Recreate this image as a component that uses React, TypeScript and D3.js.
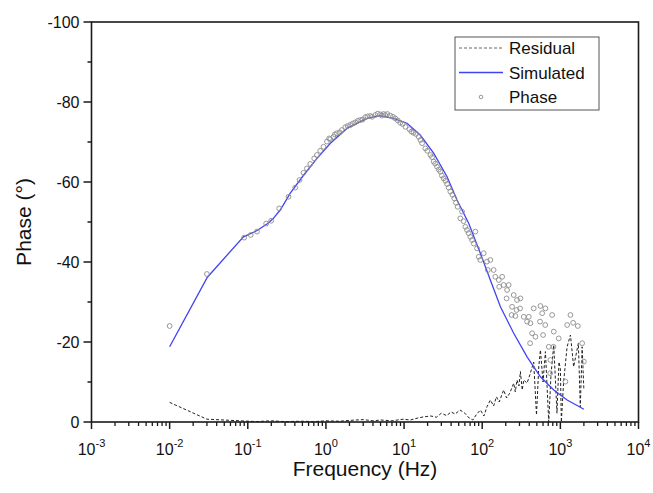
import React from 'react';
import * as d3 from 'd3';

// ---- data ----
const phaseFreq = [0.01, 0.03, 0.09, 0.109, 0.131, 0.172, 0.199, 0.252, 0.332, 0.405, 0.459, 0.516, 0.571, 0.63, 0.708, 0.767, 0.845, 0.931, 1.03, 1.1, 1.135, 1.25, 1.3, 1.38, 1.5, 1.6, 1.77, 1.9, 2.05, 2.2, 2.37, 2.55, 2.75, 2.95, 3.18, 3.4, 3.69, 3.9, 4.28, 4.6, 4.96, 5.2, 5.47, 5.74, 6.1, 6.65, 7.2, 7.71, 8.3, 8.93, 9.6, 10.4, 11.7, 12.4, 13.2, 14.2, 15.4, 16.2, 17.0, 18.7, 19.8, 21.7, 22.8, 23.9, 25, 26.4, 27.8, 29.1, 30.5, 32.1, 33.8, 35.5, 37.2, 39.1, 41.5, 44.0, 46.2, 48.5, 52.5, 55.2, 57.8, 60.8, 63.9, 67, 70.5, 74.1, 78, 81.7, 85.9, 90.2, 94.6, 104.5, 115, 118, 127, 140, 147, 163, 165, 180, 188, 205, 208, 218, 238, 241, 253, 266, 275, 279, 305, 308, 340, 375, 394, 410, 414, 435, 456, 480, 550, 556, 585, 601, 640, 644, 710, 740, 746, 785, 815, 823, 953, 1161, 1222, 1346, 1458, 1671, 1901, 2000];
const phaseVal = [-24.0, -37.0, -46.1, -46.75, -47.6, -49.6, -50.3, -53.4, -56.3, -58.6, -60.5, -62.3, -63.4, -64.5, -65.9, -66.75, -67.8, -68.8, -70.1, -70.9, -70.7, -71.3, -71.9, -72.2, -72.4, -73.0, -73.7, -74.0, -74.25, -74.6, -74.9, -75.3, -75.5, -75.6, -76.2, -76.4, -76.5, -76.3, -76.75, -77.1, -76.9, -76.6, -77.0, -76.75, -77.0, -76.6, -76.3, -75.9, -75.4, -74.8, -74.5, -73.8, -73.2, -72.6, -72.3, -72.0, -71.3, -70.5, -69.7, -68.4, -67.8, -66.75, -66.2, -65.1, -64.6, -63.8, -63.1, -62.6, -61.6, -60.9, -60.3, -59.5, -58.6, -57.6, -56.8, -55.9, -54.8, -53.8, -50.9, -52.6, -50.2, -48.8, -48.0, -47.2, -46.3, -45.5, -44.6, -47.6, -43.4, -41.3, -40.5, -42.2, -40.1, -38.0, -40.5, -38.0, -36.3, -35.5, -33.8, -36.3, -34.25, -30.9, -33.0, -34.25, -26.75, -28.8, -31.75, -26.5, -28.0, -30.5, -28.4, -30.9, -26.3, -25.1, -26.3, -19.7, -24.7, -22.2, -28.4, -21.3, -25.1, -29.0, -27.2, -21.75, -24.25, -28.4, -18.8, -12.2, -15.5, -26.75, -18.8, -22.6, -20.9, -10.1, -24.25, -26.75, -24.8, -24.0, -19.7, -15.1];

const simFreq = [0.01, 0.0304, 0.088, 0.13, 0.18, 0.21, 0.26, 0.35, 0.52, 0.77, 1.14, 1.86, 3.35, 4.8, 7.35, 10.9, 16.1, 23.9, 35.5, 47.6, 67.1, 94.6, 127, 171, 253, 375, 556, 822, 1222, 2000];
const simVal = [-18.8, -36.2, -46.3, -47.8, -49.6, -50.8, -53.0, -57.2, -61.75, -65.9, -69.7, -73.4, -75.9, -76.6, -75.9, -74.7, -71.75, -67.2, -61.3, -55.5, -49.7, -42.2, -35.5, -28.8, -22.2, -16.3, -11.3, -8.0, -5.5, -3.2];

const resFreq = [0.01, 0.03, 0.09, 0.13, 0.2, 0.3, 0.5, 0.7, 1.0, 1.5, 2.0, 3.0, 4.0, 5.0, 7.0, 9.7, 12, 15, 18, 22, 26, 30, 35, 40, 45, 52, 60, 68, 76, 85, 95, 105, 115, 127, 140, 152, 165, 188, 205, 225, 253, 265, 279, 295, 308, 325, 340, 375, 410, 456, 495, 530, 556, 600, 644, 710, 760, 823, 905, 960, 1000, 1030, 1100, 1220, 1346, 1480, 1700, 1800, 1900, 2000];
const resVal = [-4.9, -0.7, -0.25, -0.1, -0.3, -0.1, -0.2, -0.1, -0.3, -0.2, -0.4, -0.6, -0.3, -0.5, -0.3, -0.7, -0.5, -1.0, -1.3, -1.5, -1.2, -2.2, -1.6, -2.5, -2.0, -3.0, -2.2, -1.0, -0.5, -2.0, -3.0, -1.5, -3.8, -5.5, -4.0, -6.3, -5.0, -8.0, -6.0, -7.2, -9.7, -7.5, -10.5, -9.0, -12.6, -8.0, -10.5, -9.7, -12.0, -15.0, -1.75, -14.0, -18.0, -10.0, -17.6, 0, -12.0, -19.25, -2.2, -15.0, -13.4, 0, -10.0, -18.8, -21.75, -13.8, -19.7, -3.8, -18.8, -8.0];

const xTickExps = [-3, -2, -1, 0, 1, 2, 3, 4];
const yTicks = [0, -20, -40, -60, -80, -100];
const yMinorTicks = [-10, -30, -50, -70, -90];
const legendItems = ['Residual', 'Simulated', 'Phase'];

const FONT = 'Arial, "Liberation Sans", sans-serif';

export default function App() {
  const W = 653, H = 493;
  const L = 91.5, R = 638.5, T = 22, B = 422;
  const x = d3.scaleLog().domain([1e-3, 1e4]).range([L, R]);
  const y = d3.scaleLinear().domain([0, -100]).range([B, T]);

  const minorX: number[] = [];
  for (let k = -3; k < 4; k++) for (let m = 2; m <= 9; m++) minorX.push(m * Math.pow(10, k));

  const line = d3.line<[number, number]>().x(d => x(d[0])).y(d => y(d[1]));
  const simPath = line(simFreq.map((f, i) => [f, simVal[i]] as [number, number])) || '';
  const resPath = line(resFreq.map((f, i) => [f, resVal[i]] as [number, number])) || '';

  const blue = '#4242f5';
  const axisColor = '#1a1a1a';

  return (
    <svg width={W} height={H} style={{ position: 'absolute', left: 0, top: 0, background: '#fff' }} fontFamily={FONT}>
      <rect x={0} y={0} width={W} height={H} fill="#fff" />
      {/* residual */}
      <path d={resPath} fill="none" stroke="#222" strokeWidth={1} strokeDasharray="3,2" />
      {/* simulated */}
      <path d={simPath} fill="none" stroke={blue} strokeWidth={1.3} />
      {/* phase */}
      {phaseFreq.map((f, i) => (
        <circle key={i} cx={x(f)} cy={y(phaseVal[i])} r={2.4} fill="none" stroke="#8c8c8c" strokeWidth={0.9} />
      ))}

      {/* frame */}
      <rect x={L} y={T} width={R - L} height={B - T} fill="none" stroke={axisColor} strokeWidth={1.6} />

      {/* y ticks */}
      {yTicks.map(v => (
        <g key={v}>
          <line x1={L - 8} x2={L} y1={y(v)} y2={y(v)} stroke={axisColor} strokeWidth={1.5} />
          <text x={L - 12} y={y(v)} dy="0.36em" textAnchor="end" fontSize={16} fill="#111">{v}</text>
        </g>
      ))}
      {yMinorTicks.map(v => (
        <line key={v} x1={L - 4} x2={L} y1={y(v)} y2={y(v)} stroke={axisColor} strokeWidth={1.5} />
      ))}

      {/* x ticks */}
      {xTickExps.map(e => (
        <g key={e}>
          <line x1={x(Math.pow(10, e))} x2={x(Math.pow(10, e))} y1={B} y2={B + 7} stroke={axisColor} strokeWidth={1.5} />
          <text x={x(Math.pow(10, e))} y={B + 33} textAnchor="middle" fontSize={16} fill="#111">
            10<tspan fontSize={11} dy={-8}>{e}</tspan>
          </text>
        </g>
      ))}
      {minorX.map((f, i) => (
        <line key={i} x1={x(f)} x2={x(f)} y1={B} y2={B + 4} stroke={axisColor} strokeWidth={1.3} />
      ))}

      {/* axis titles */}
      <text x={(L + R) / 2} y={476} textAnchor="middle" fontSize={21} fill="#111">Frequency (Hz)</text>
      <text transform={`translate(31,${(T + B) / 2}) rotate(-90)`} textAnchor="middle" fontSize={21} fill="#111">Phase (°)</text>

      {/* legend */}
      <rect x={455} y={37} width={144} height={73} fill="#fff" stroke="#555" strokeWidth={1} />
      {legendItems.map((name, i) => {
        const cy = 48 + i * 24.5;
        return (
          <g key={name}>
            {i === 0 && <line x1={459} x2={503} y1={cy} y2={cy} stroke="#666" strokeWidth={1} strokeDasharray="3,2" />}
            {i === 1 && <line x1={459} x2={503} y1={cy} y2={cy} stroke={blue} strokeWidth={1.3} />}
            {i === 2 && <circle cx={481} cy={cy} r={1.8} fill="none" stroke="#8c8c8c" strokeWidth={0.9} />}
            <text x={509} y={cy} dy="0.36em" fontSize={17} fill="#111">{name}</text>
          </g>
        );
      })}
    </svg>
  );
}
